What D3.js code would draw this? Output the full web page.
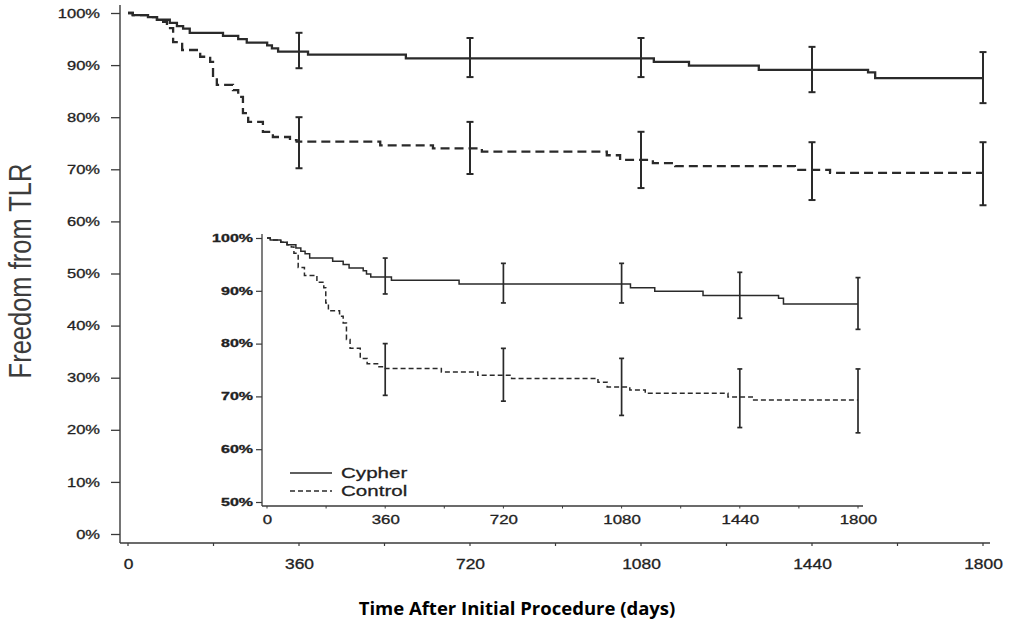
<!DOCTYPE html>
<html>
<head>
<meta charset="utf-8">
<script src="https://cdn.jsdelivr.net/npm/d3@7"></script>
<style>
  html, body { margin: 0; padding: 0; background: #fff; }
  svg { display: block; }
  .tick text { fill: #222; stroke: #222; stroke-width: 0.3px; }
</style>
</head>
<body>
<svg id="chart" width="1011" height="623"></svg>
<script>
// ---- data ----------------------------------------------------------
const timeTicks = [0, 360, 720, 1080, 1440, 1800];
const minorTicks = [0, 180, 360, 540, 720, 900, 1080, 1260, 1440, 1620, 1800];
const mainYTicks = [0, 10, 20, 30, 40, 50, 60, 70, 80, 90, 100];
const insetYTicks = [50, 60, 70, 80, 90, 100];
const seriesNames = ["Cypher", "Control"];

// Kaplan-Meier step points: day of event, survival (%) after the step
const cypherDays = [0, 10, 42, 61, 88, 103, 116, 130, 200, 232, 250, 293, 303, 316, 379, 585, 1107, 1181, 1328, 1558, 1573, 1800];
const cypherSurv = [100, 99.6, 99.2, 98.7, 98.1, 97.5, 97.0, 96.2, 95.6, 95.0, 94.3, 93.8, 93.2, 92.6, 92.0, 91.3, 90.6, 89.9, 89.1, 88.6, 87.5, 87.5];

const controlDays = [0, 10, 42, 61, 74, 82, 95, 114, 152, 173, 179, 187, 221, 232, 242, 253, 284, 305, 341, 355, 531, 642, 745, 1008, 1036, 1105, 1152, 1404, 1478, 1800];
const controlSurv = [100, 99.6, 99.2, 98.7, 98.3, 97.1, 94.4, 92.9, 91.6, 90.6, 87.7, 86.2, 85.2, 83.9, 80.8, 79.1, 77.2, 76.2, 75.6, 75.3, 74.6, 74.0, 73.4, 72.7, 71.8, 71.2, 70.6, 69.9, 69.3, 69.3];

// 95% confidence intervals at the yearly landmarks
const ciDays = [360, 720, 1080, 1440, 1800];
const cypherLow = [89.4, 87.7, 87.7, 84.8, 82.7];
const cypherHigh = [96.2, 95.2, 95.2, 93.5, 92.5];
const controlLow = [70.2, 69.1, 66.4, 64.1, 63.1];
const controlHigh = [80.0, 79.1, 77.2, 75.2, 75.2];

// ---- helpers -------------------------------------------------------
const svg = d3.select("#chart");
const INK = "#2a2a2a";
const TXT_FONT = "'Liberation Sans', Arial, sans-serif";
const dayFmt = d3.format("d");

const series = [
  { name: seriesNames[0], pts: cypherDays.map((d, i) => [d, cypherSurv[i]]),
    ci: ciDays.map((d, i) => [d, cypherLow[i], cypherHigh[i]]), dashed: false },
  { name: seriesNames[1], pts: controlDays.map((d, i) => [d, controlSurv[i]]),
    ci: ciDays.map((d, i) => [d, controlLow[i], controlHigh[i]]), dashed: true }
];

// widen tick text horizontally, keeping its anchor at offset x
function widen(sel, sx, x) {
  sel.attr("x", x / sx).attr("transform", `scale(${sx},1)`);
}

function drawPanel(g, x, y, st) {
  const line = d3.line()
    .x(d => x(d[0]))
    .y(d => y(d[1]))
    .curve(d3.curveStepAfter);

  series.forEach(s => {
    g.append("path")
      .datum(s.pts)
      .attr("fill", "none")
      .attr("stroke", INK)
      .attr("stroke-width", st.lw)
      .attr("stroke-dasharray", s.dashed ? st.dash : null)
      .attr("d", line);

    const bars = g.append("g").selectAll("g").data(s.ci).join("g");
    bars.append("line")
      .attr("x1", d => x(d[0])).attr("x2", d => x(d[0]))
      .attr("y1", d => y(d[1])).attr("y2", d => y(d[2]))
      .attr("stroke", INK).attr("stroke-width", st.bw);
    [1, 2].forEach(k => {
      bars.append("line")
        .attr("x1", d => x(d[0]) - st.cap).attr("x2", d => x(d[0]) + st.cap)
        .attr("y1", d => y(d[k])).attr("y2", d => y(d[k]))
        .attr("stroke", INK).attr("stroke-width", st.bw);
    });
  });
}

// ---- main panel ----------------------------------------------------
const xMain = d3.scaleLinear().domain([0, 1800]).range([128, 983]);
const yMain = d3.scaleLinear().domain([0, 100]).range([534, 13]);
const mainAxisX = 120, mainAxisY = 543;

// axis lines
svg.append("line").attr("x1", mainAxisX).attr("x2", mainAxisX)
  .attr("y1", 5).attr("y2", mainAxisY).attr("stroke", "#3a3a3a").attr("stroke-width", 1.4);
svg.append("line").attr("x1", mainAxisX).attr("x2", 990)
  .attr("y1", mainAxisY).attr("y2", mainAxisY).attr("stroke", "#3a3a3a").attr("stroke-width", 1.6);

const gyMain = svg.append("g")
  .attr("transform", `translate(${mainAxisX},0)`)
  .call(d3.axisLeft(yMain).tickValues(mainYTicks).tickSize(9).tickFormat(d => d + "%"));
gyMain.select(".domain").remove();
gyMain.selectAll(".tick line").attr("stroke", "#3a3a3a").attr("stroke-width", 1.3);
gyMain.selectAll(".tick text")
  .attr("font-family", TXT_FONT).attr("font-size", 13)
  .call(widen, 1.27, -20);

const gxMain = svg.append("g")
  .attr("transform", `translate(0,${mainAxisY})`)
  .call(d3.axisBottom(xMain).tickValues(timeTicks).tickSize(0).tickFormat(dayFmt));
gxMain.select(".domain").remove();
gxMain.selectAll(".tick text")
  .attr("font-family", TXT_FONT).attr("font-size", 14.5).attr("y", 16)
  .call(widen, 1.2, 0);
svg.append("g").attr("transform", `translate(0,${mainAxisY})`)
  .selectAll("line").data(minorTicks).join("line")
  .attr("x1", d => xMain(d)).attr("x2", d => xMain(d))
  .attr("y1", 0).attr("y2", 3)
  .attr("stroke", "#3a3a3a").attr("stroke-width", 1.2);

drawPanel(svg.append("g"), xMain, yMain, { lw: 2.3, dash: "9,5", bw: 2, cap: 3.5 });

// ---- inset panel ---------------------------------------------------
const xIn = d3.scaleLinear().domain([0, 1800]).range([267, 858]);
const yIn = d3.scaleLinear().domain([50, 100]).range([502, 238]);
const inAxisX = 262, inAxisY = 506;

svg.append("line").attr("x1", inAxisX).attr("x2", inAxisX)
  .attr("y1", 234).attr("y2", inAxisY).attr("stroke", "#3a3a3a").attr("stroke-width", 1.3);
svg.append("line").attr("x1", inAxisX).attr("x2", 863)
  .attr("y1", inAxisY).attr("y2", inAxisY).attr("stroke", "#3a3a3a").attr("stroke-width", 1.5);

const gyIn = svg.append("g")
  .attr("transform", `translate(${inAxisX},0)`)
  .call(d3.axisLeft(yIn).tickValues(insetYTicks).tickSize(6).tickFormat(d => d + "%"));
gyIn.select(".domain").remove();
gyIn.selectAll(".tick line").attr("stroke", "#3a3a3a").attr("stroke-width", 1.2);
gyIn.selectAll(".tick text")
  .attr("font-family", TXT_FONT).attr("font-size", 10).attr("font-weight", "bold")
  .call(widen, 1.6, -9);

const gxIn = svg.append("g")
  .attr("transform", `translate(0,${inAxisY})`)
  .call(d3.axisBottom(xIn).tickValues(timeTicks).tickSize(0).tickFormat(dayFmt));
gxIn.select(".domain").remove();
gxIn.selectAll(".tick text")
  .attr("font-family", TXT_FONT).attr("font-size", 12.5).attr("y", 9)
  .call(widen, 1.35, 0);
svg.append("g").attr("transform", `translate(0,${inAxisY})`)
  .selectAll("line").data(minorTicks).join("line")
  .attr("x1", d => xIn(d)).attr("x2", d => xIn(d))
  .attr("y1", 0).attr("y2", 2.5)
  .attr("stroke", "#3a3a3a").attr("stroke-width", 1);

drawPanel(svg.append("g"), xIn, yIn, { lw: 1.5, dash: "5,3", bw: 1.7, cap: 2.5 });

// legend inside the inset
const legend = svg.append("g").attr("transform", "translate(290,473)");
const lg = legend.selectAll("g").data(series).join("g")
  .attr("transform", (d, i) => `translate(0,${i * 18})`);
lg.append("line")
  .attr("x1", 0).attr("x2", 42).attr("y1", 0).attr("y2", 0)
  .attr("stroke", INK).attr("stroke-width", 1.3)
  .attr("stroke-dasharray", d => d.dashed ? "5,3" : null);
lg.append("text")
  .attr("font-family", TXT_FONT).attr("font-size", 14.5).attr("fill", "#222")
  .attr("stroke", "#222").attr("stroke-width", 0.25)
  .attr("transform", "translate(51,5) scale(1.42,1)")
  .text(d => d.name);

// ---- titles --------------------------------------------------------
svg.append("text")
  .attr("transform", "translate(31,271) scale(1.25,1) rotate(-90)")
  .attr("text-anchor", "middle")
  .attr("font-family", TXT_FONT).attr("font-size", 25.5).attr("fill", "#3c3c3c")
  .text("Freedom from TLR");

svg.append("text")
  .attr("x", 517).attr("y", 615)
  .attr("text-anchor", "middle")
  .attr("font-family", "'Open Sans', sans-serif").attr("font-weight", "bold")
  .attr("font-size", 18.5).attr("fill", "#000")
  .text("Time After Initial Procedure (days)");
</script>
</body>
</html>
